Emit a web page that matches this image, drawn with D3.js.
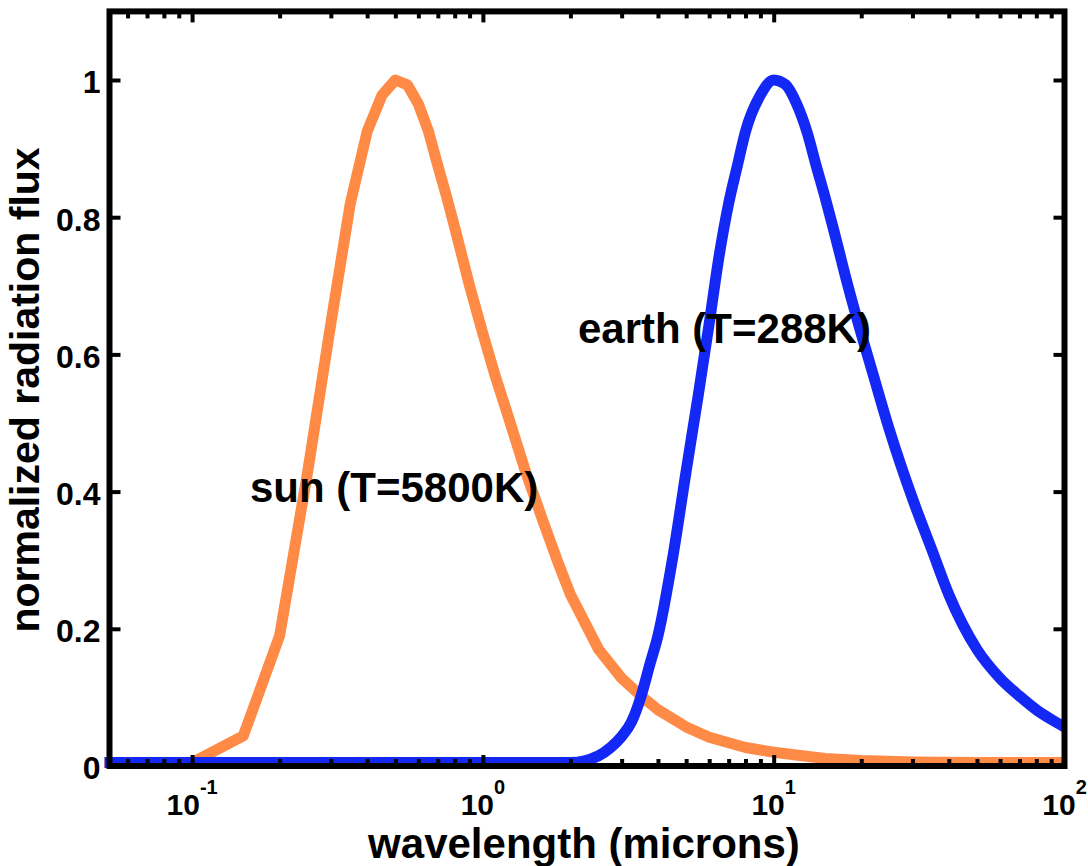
<!DOCTYPE html>
<html>
<head>
<meta charset="utf-8">
<script src="https://cdn.jsdelivr.net/npm/d3@7"></script>
<style>
  body { margin: 0; background: #fff; }
  svg text { font-family: "Liberation Sans", Arial, sans-serif; font-weight: bold; fill: #000; }
</style>
</head>
<body>
<div id="chart"></div>
<script>
// Values (wavelength in microns, normalized flux)
var sun_wavelength = [0.05, 0.1, 0.15, 0.2, 0.25, 0.3, 0.35, 0.4, 0.45, 0.5, 0.55, 0.6, 0.65, 0.7, 0.75, 0.8, 0.9, 1.0,
                      1.1, 1.2, 1.4, 1.6, 1.8, 2, 2.5, 3, 3.5, 4, 5, 6, 7, 8, 10, 15, 20, 30, 50, 100]
var sun_flux = [0.005, 0.005, 0.044, 0.19, 0.43, 0.645, 0.82, 0.925, 0.978, 1.0, 0.993, 0.965, 0.925, 0.875, 0.83, 0.785, 0.7, 0.63,
                0.57, 0.52, 0.43, 0.36, 0.3, 0.25, 0.17, 0.128, 0.102, 0.082, 0.057, 0.042, 0.034, 0.027, 0.02, 0.011, 0.008, 0.006, 0.005, 0.005]

var earth_wavelength = [0.05, 1, 2, 2.5, 2.75, 3, 3.25, 3.5, 3.75, 4, 4.5, 5, 5.5, 6, 6.5, 7, 7.5, 8, 9, 10,
                        11, 12, 13, 14, 15, 16, 18, 20, 22, 25, 30, 35, 40, 50, 60, 70, 80, 90, 100]
var earth_flux = [0.005, 0.005, 0.005, 0.015, 0.027, 0.043, 0.065, 0.102, 0.148, 0.19, 0.305, 0.43, 0.54, 0.645, 0.745, 0.82, 0.875, 0.925, 0.978, 1.0,
                  0.993, 0.965, 0.925, 0.875, 0.83, 0.785, 0.7, 0.63, 0.57, 0.49, 0.39, 0.315, 0.25, 0.17, 0.128, 0.102, 0.082, 0.068, 0.057]

var y_ticks = [0, 0.2, 0.4, 0.6, 0.8, 1]
var x_ticks = [0.1, 1, 10, 100]
var x_tick_exponents = ["-1", "0", "1", "2"]
var curve_labels = ["sun (T=5800K)", "earth (T=288K)"]
var x_label = "wavelength (microns)"
var y_label = "normalized radiation flux"

var width = 1088
var height = 866
var left = 109.5, right = 1064.5, bottom = 766

var svg = d3.select("#chart")
            .append("svg")
            .attr("width", width)
            .attr("height", height)

// Scales: log wavelength on x, flux on y
var xscale = d3.scaleLog()
               .domain([0.052, 100])
               .range([left, right])

var yscale = d3.scaleLinear()
               .domain([0, 1.1])
               .range([bottom, bottom - 686 * 1.1])

var top_y = yscale(1.1)

var line = d3.line()
             .x(function(d){return xscale(d[0])})
             .y(function(d){return yscale(d[1])})

// Sun curve (coarse linear segments, like the original)
svg.append("path")
   .datum(d3.zip(sun_wavelength, sun_flux))
   .attr("d", line.curve(d3.curveLinear))
   .attr("fill", "none")
   .attr("stroke", "#ff8a45")
   .attr("stroke-width", 11)
   .attr("stroke-linejoin", "round")

// Earth curve
svg.append("path")
   .datum(d3.zip(earth_wavelength, earth_flux))
   .attr("d", line.curve(d3.curveMonotoneX))
   .attr("fill", "none")
   .attr("stroke", "#1428f5")
   .attr("stroke-width", 11)
   .attr("stroke-linejoin", "round")

// Minor log ticks (2..9 in each decade)
var minor = xscale.ticks().filter(function(d){
  var e = Math.log10(d)
  return Math.abs(e - Math.round(e)) > 1e-6
})

function style_axis(g){
  g.select(".domain").remove()
  g.selectAll(".tick line").attr("stroke", "#000").attr("stroke-width", 4)
}

svg.append("g")
   .attr("transform", "translate(0," + bottom + ")")
   .call(d3.axisBottom(xscale).tickValues(minor).tickSizeInner(-7).tickSizeOuter(0).tickFormat(""))
   .call(style_axis)

svg.append("g")
   .attr("transform", "translate(0," + top_y + ")")
   .call(d3.axisTop(xscale).tickValues(minor).tickSizeInner(-7).tickSizeOuter(0).tickFormat(""))
   .call(style_axis)

svg.append("g")
   .attr("transform", "translate(0," + bottom + ")")
   .call(d3.axisBottom(xscale).tickValues(x_ticks).tickSizeInner(-11).tickSizeOuter(0).tickFormat(""))
   .call(style_axis)

svg.append("g")
   .attr("transform", "translate(0," + top_y + ")")
   .call(d3.axisTop(xscale).tickValues(x_ticks).tickSizeInner(-11).tickSizeOuter(0).tickFormat(""))
   .call(style_axis)

// Y axes on both sides, labels only on the left
var yaxis_left = svg.append("g")
   .attr("transform", "translate(" + left + ",0)")
   .call(d3.axisLeft(yscale).tickValues(y_ticks).tickSizeInner(-11).tickSizeOuter(0)
           .tickPadding(9).tickFormat(d3.format("~g")))
   .call(style_axis)

yaxis_left.selectAll(".tick text")
   .attr("font-size", 32)
   .attr("dy", "0.4em")
   .style("font-family", "'Liberation Sans', Arial, sans-serif")
   .style("font-weight", "bold")
   .attr("fill", "#000")

svg.append("g")
   .attr("transform", "translate(" + right + ",0)")
   .call(d3.axisRight(yscale).tickValues(y_ticks).tickSizeInner(-11).tickSizeOuter(0).tickFormat(""))
   .call(style_axis)

// Axes box
svg.append("rect")
   .attr("x", left)
   .attr("y", top_y)
   .attr("width", right - left)
   .attr("height", bottom - top_y)
   .attr("fill", "none")
   .attr("stroke", "#000")
   .attr("stroke-width", 6)

// Power-of-ten tick labels with superscripts
var xlabels = svg.selectAll(".xtick")
   .data(x_ticks)
   .enter()
   .append("text")
   .attr("class", "xtick")
   .attr("x", function(d){return xscale(d)})
   .attr("y", 815)
   .attr("text-anchor", "middle")
   .attr("font-size", 30)

xlabels.append("tspan").text("10")
xlabels.append("tspan")
   .attr("dy", -21)
   .attr("font-size", 20)
   .text(function(d, i){return x_tick_exponents[i]})

// Axis titles
svg.append("text")
   .attr("x", 584)
   .attr("y", 858)
   .attr("text-anchor", "middle")
   .attr("font-size", 42)
   .text(x_label)

svg.append("text")
   .attr("transform", "translate(39,390) rotate(-90)")
   .attr("text-anchor", "middle")
   .attr("font-size", 41)
   .text(y_label)

// Curve annotations
svg.append("text")
   .attr("x", 250)
   .attr("y", 502)
   .attr("font-size", 42)
   .text(curve_labels[0])

svg.append("text")
   .attr("x", 578)
   .attr("y", 343)
   .attr("font-size", 42)
   .text(curve_labels[1])
</script>
</body>
</html>
